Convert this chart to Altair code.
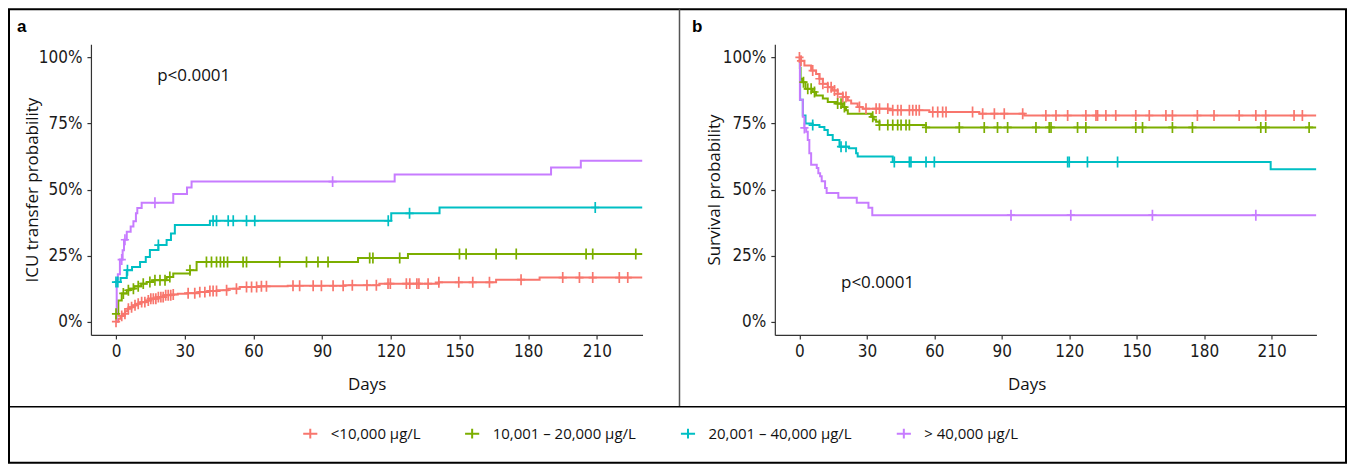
import altair as alt
import pandas as pd

GROUPS = ["<10,000 µg/L", "10,001 – 20,000 µg/L", "20,001 – 40,000 µg/L", "> 40,000 µg/L"]
COLORS = ["#F8766D", "#7CAE00", "#00BFC4", "#C77CFF"]

# ---------------- panel a : ICU transfer (cumulative) ----------------
a_red_t = [0, 1, 2, 3, 4, 5, 6, 7.5, 9, 11, 13, 15, 18, 21, 24, 27, 31, 36, 40, 44, 49, 54, 62, 75, 100, 115, 141, 166, 185, 229.9]
a_red_v = [0.0, 0.011, 0.022, 0.03, 0.04, 0.049, 0.055, 0.062, 0.068, 0.074, 0.08, 0.087, 0.093, 0.1, 0.103, 0.106, 0.108, 0.112, 0.116, 0.119, 0.125, 0.131, 0.134, 0.136, 0.138, 0.144, 0.149, 0.159, 0.167, 0.167]
a_red_c = [0, 2.5, 3.9, 5.4, 6.8, 8.3, 9.7, 11.2, 12.6, 14.1, 15.2, 16.3, 17.4, 18.5, 19.6, 20.6, 21.7, 22.8, 23.9, 25,
           31.5, 34.4, 36.6, 38.8, 41, 42.4, 43.9, 48.3, 52.6, 57, 59.2, 61.4, 63.5, 65.7, 77.3, 80.2, 86.1, 89.7, 94.8,
           99.2, 103.2, 109.6, 113.7, 118.8, 119.8, 126.8, 128.3, 131.4, 132.3, 136.3, 141, 149.7, 155.8, 163.1, 176.9,
           195.1, 202.4, 208.2, 219.8, 223.5]

a_grn_t = [0, 1, 2.5, 4.7, 6.1, 8, 11, 13.4, 16.3, 22.1, 25, 32.3, 35.2, 105.7, 127.5, 229.9]
a_grn_v = [0.03, 0.08, 0.107, 0.119, 0.125, 0.134, 0.144, 0.15, 0.157, 0.169, 0.182, 0.195, 0.226, 0.241, 0.256, 0.256]
a_grn_c = [0, 3.2, 5.4, 7.6, 9.7, 11.9, 14.8, 17, 19.2, 21.4, 23.5, 32.3, 39.5, 41.7, 43.9, 45.6, 47.1, 48.7, 55.5, 57,
           71.5, 83.2, 88.2, 92.6, 110.8, 112.2, 123.9, 150, 152.9, 166, 174.8, 205.3, 208.2, 227]

a_cyn_t = [0, 2, 4.7, 7, 10.5, 13, 14.8, 18.5, 22.1, 24, 25.7, 41, 120.2, 141.3, 229.9]
a_cyn_v = [0.15, 0.165, 0.195, 0.207, 0.226, 0.245, 0.271, 0.29, 0.309, 0.334, 0.366, 0.382, 0.41, 0.432, 0.432]
a_cyn_c = [0, 0.8, 5, 18.5, 42.4, 43.9, 49, 51.2, 57, 60.6, 118.9, 128.2, 209.3]

a_pur_t = [0, 0.3, 0.8, 1.7, 2.9, 3.5, 4.7, 6.4, 7.6, 8.7, 9.3, 11.2, 25, 31, 33, 121.7, 190, 203, 229.9]
a_pur_v = [0.0, 0.16, 0.18, 0.235, 0.27, 0.31, 0.34, 0.36, 0.38, 0.41, 0.43, 0.45, 0.483, 0.508, 0.53, 0.557, 0.583, 0.609, 0.609]
a_pur_c = [2.5, 3.9, 17, 94.6]

# ---------------- panel b : survival ----------------
b_red_t = [0, 0.7, 2.2, 5.2, 7.4, 8.9, 10.4, 12.6, 14.8, 17, 19.3, 21.5, 23, 25.9, 28.1, 40, 57.8, 80, 100, 229.9]
b_red_v = [1.0, 0.987, 0.969, 0.95, 0.937, 0.919, 0.9, 0.887, 0.875, 0.862, 0.85, 0.837, 0.825, 0.812, 0.806, 0.8, 0.793, 0.787, 0.78, 0.78]
b_red_c = [0, 0.7, 5.9, 8.9, 10.4, 12.6, 14.1, 15.6, 17, 19.3, 20.7, 26.7, 29.6, 34.1, 35.6, 39.3, 41.5, 43.7, 45.2,
           48.9, 50.4, 51.9, 53.3, 59.3, 61.5, 63.7, 65.2, 77, 81.5, 86.7, 91.1, 99.3, 109.6, 114.1, 119.3, 127.4,
           131.9, 132.6, 136.3, 140.7, 149.6, 155.6, 163, 165.9, 177, 184.4, 195.6, 203, 207.4, 220, 223.7]

b_grn_t = [0, 0.2, 0.5, 1.2, 2.7, 5.9, 7.4, 10.4, 12.6, 16.3, 19.3, 20.7, 21.5, 31.9, 33, 34.1, 35.6, 56.3, 229.9]
b_grn_v = [1.0, 0.96, 0.919, 0.906, 0.881, 0.869, 0.856, 0.844, 0.831, 0.825, 0.812, 0.8, 0.787, 0.775, 0.765, 0.756, 0.744, 0.735, 0.735]
b_grn_c = [1.8, 3.7, 5.2, 6.7, 17, 18.5, 20, 32.6, 35.6, 39.3, 41.5, 43.7, 45.2, 47.4, 48.9, 56.3, 71.1, 82.2, 88.1,
           92.6, 105.2, 111.1, 111.9, 123.7, 127.4, 149.6, 152.6, 165.9, 174.8, 205.2, 207.4, 226.7]

b_cyn_t = [0, 0.3, 1.5, 2.7, 5.9, 8.9, 11.1, 12.6, 14.8, 17.8, 22, 25.2, 25.9, 41.5, 209.6, 229.9]
b_cyn_v = [1.0, 0.84, 0.78, 0.75, 0.744, 0.737, 0.725, 0.706, 0.687, 0.662, 0.656, 0.637, 0.625, 0.604, 0.577, 0.577]
b_cyn_c = [5.9, 18.5, 20.7, 42.2, 48.9, 49.6, 56.3, 60, 119.3, 120, 128.1, 141.5]

b_pur_t = [0, 0.2, 1.5, 2.2, 3, 3.7, 4.4, 5.2, 7.7, 8.4, 9.2, 9.9, 11.4, 12.1, 17.3, 25.5, 30.7, 32.4, 229.9]
b_pur_v = [1.0, 0.84, 0.775, 0.733, 0.719, 0.687, 0.637, 0.594, 0.581, 0.562, 0.55, 0.531, 0.506, 0.487, 0.469, 0.45, 0.431, 0.403, 0.403]
b_pur_c = [2.2, 94.1, 120.7, 157, 203]

X_TICKS = [0, 30, 60, 90, 120, 150, 180, 210]
Y_TICKS = [0, 0.25, 0.5, 0.75, 1.0]
X_DOMAIN = [-10.95, 229.95]
Y_DOMAIN = [-0.05, 1.05]

PLUS = "M-0.75,0H0.75M0,-1V1"
LEG_SYM = "M-1,0H1M0,-0.7V0.7"
TICK_FONT = "Liberation Sans Narrow, Arial Narrow, DejaVu Sans Condensed, sans-serif"
TEXT_FONT = "Open Sans"


def step_value(ts, vs, t):
    val = vs[0]
    for ti, vi in zip(ts, vs):
        if ti <= t:
            val = vi
        else:
            break
    return val


def build(curves):
    lines, pts = [], []
    for g, (ts, vs, cs) in zip(GROUPS, curves):
        for t, v in zip(ts, vs):
            lines.append({"group": g, "day": t, "p": v})
        for c in cs:
            pts.append({"group": g, "day": c, "p": step_value(ts, vs, c)})
    return pd.DataFrame(lines), pd.DataFrame(pts)


a_lines, a_pts = build([(a_red_t, a_red_v, a_red_c), (a_grn_t, a_grn_v, a_grn_c),
                        (a_cyn_t, a_cyn_v, a_cyn_c), (a_pur_t, a_pur_v, a_pur_c)])
b_lines, b_pts = build([(b_red_t, b_red_v, b_red_c), (b_grn_t, b_grn_v, b_grn_c),
                        (b_cyn_t, b_cyn_v, b_cyn_c), (b_pur_t, b_pur_v, b_pur_c)])

legend = alt.Legend(
    title=None, orient="none", direction="horizontal", legendX=211, legendY=381,
    symbolType=LEG_SYM, symbolSize=200, symbolStrokeWidth=2, labelFont=TEXT_FONT,
    labelFontSize=15, labelColor="#111", columnPadding=40, labelOffset=12,
)
color = alt.Color("group:N", scale=alt.Scale(domain=GROUPS, range=COLORS), legend=legend)


def panel(lines, pts, ytitle, ytitle_x, xtitle_x, p_day, p_val, letter, letter_x):
    xax = alt.Axis(values=X_TICKS, title="Days", titleY=50, titleBaseline="middle",
                   titleX=xtitle_x, grid=False)
    yax = alt.Axis(values=Y_TICKS, format=".0%", title=ytitle, titleX=ytitle_x,
                   titleBaseline="middle", grid=False)
    x = alt.X("day:Q", scale=alt.Scale(domain=X_DOMAIN, nice=False, zero=False), axis=xax)
    y = alt.Y("p:Q", scale=alt.Scale(domain=Y_DOMAIN, nice=False, zero=False), axis=yax)
    ln = alt.Chart(lines).mark_line(interpolate="step-after", strokeWidth=2, clip=True).encode(
        x=x, y=y, color=color)
    pt = alt.Chart(pts).mark_point(shape=PLUS, filled=False, size=120, strokeWidth=1.7, opacity=1).encode(
        x="day:Q", y="p:Q", color=color)
    ptxt = alt.Chart(pd.DataFrame({"day": [p_day], "p": [p_val], "label": ["p<0.0001"]})).mark_text(
        align="left", baseline="middle", font=TEXT_FONT, fontSize=17, color="#111").encode(
        x="day:Q", y="p:Q", text="label:N")
    lt = alt.Chart(pd.DataFrame({"t": [letter]})).mark_text(
        align="left", baseline="middle", font="Liberation Sans", fontSize=17, fontWeight="bold",
        color="black").encode(x=alt.value(letter_x), y=alt.value(-17), text="t:N")
    return [ln, pt, ptxt, lt]


one = pd.DataFrame({"k": [0]})
frame = alt.Chart(one).mark_rect(fillOpacity=0, stroke="black", strokeWidth=2).encode(
    x=alt.value(-82), x2=alt.value(1256), y=alt.value(-35), y2=alt.value(419))
vdiv = alt.Chart(one).mark_rule(color="#555", strokeWidth=1.5).encode(
    x=alt.value(589), y=alt.value(-35), y2=alt.value(363))
hdiv = alt.Chart(one).mark_rule(color="black", strokeWidth=1.5).encode(
    x=alt.value(-82), x2=alt.value(1256), y=alt.value(363))

A = alt.layer(frame, vdiv, hdiv,
              *panel(a_lines, a_pts, "ICU transfer probability", -58, 276, 18, 0.93, "a", -74)
              ).properties(width=552, height=291)
B = alt.layer(*panel(b_lines, b_pts, "Survival probability", -60, 252, 18.5, 0.147, "b", -83)
              ).properties(width=542, height=291)

chart = alt.hconcat(A, B, spacing=132.4, bounds="flush").properties(padding=0).configure_view(
    strokeWidth=0
).configure_axis(
    domainColor="#333", domainWidth=1.2, tickColor="#333", tickWidth=1.2, tickSize=4,
    labelFont=TICK_FONT, labelFontSize=17, labelColor="#1a1a1a", labelPadding=5,
    titleFont=TEXT_FONT, titleFontSize=17, titleFontWeight="normal", titleColor="#111",
)

chart.save("out.html", embed_options={"renderer": "svg", "actions": False})
